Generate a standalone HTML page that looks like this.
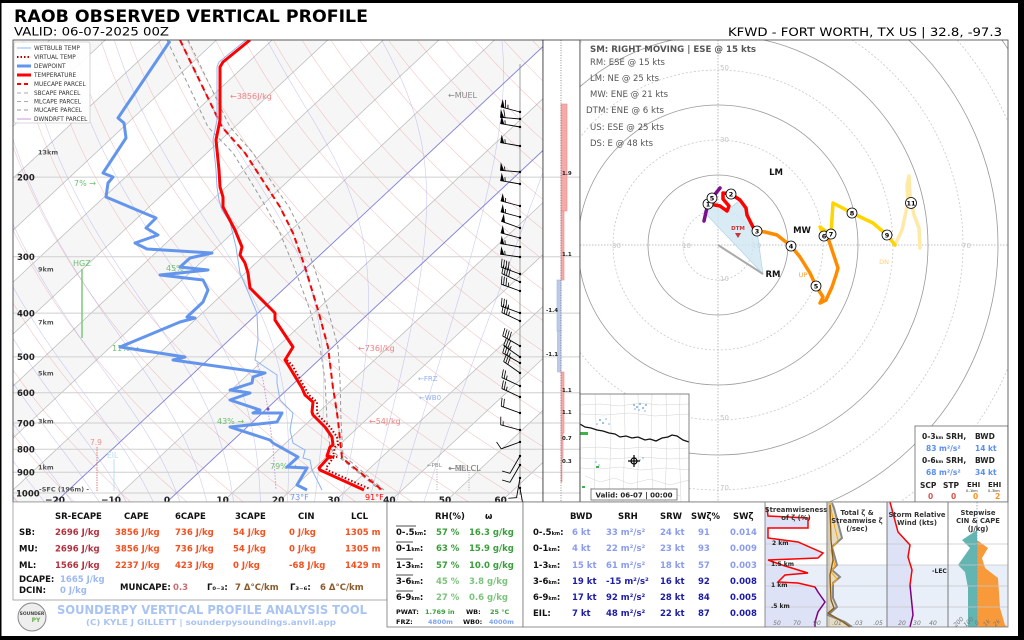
<!DOCTYPE html>
<html><head><meta charset="utf-8"><title>RAOB Observed Vertical Profile</title>
<style>
html,body{margin:0;padding:0;background:#000;}
svg{display:block;}
text{font-family:"DejaVu Sans","Liberation Sans",sans-serif;}
</style></head><body>
<svg id="s" width="1024" height="640" viewBox="0 0 1024 640" xmlns="http://www.w3.org/2000/svg">
<defs>
<clipPath id="cs"><rect x="13" y="40" width="530" height="462"/></clipPath>
<clipPath id="ch"><rect x="580" y="40" width="428" height="462"/></clipPath>
<clipPath id="cm"><rect x="580" y="394" width="109" height="108"/></clipPath>
<clipPath id="cb"><rect x="765" y="502" width="243" height="125"/></clipPath>
</defs>
<rect x="0" y="0" width="1024" height="640" fill="#000"/>
<rect x="1.5" y="3" width="1016.5" height="633" fill="#fff"/>

<!-- TITLES -->
<text x="14" y="22" font-size="17" font-weight="bold" textLength="354" lengthAdjust="spacingAndGlyphs" fill="#000">RAOB OBSERVED VERTICAL PROFILE</text>
<text x="14" y="35.5" font-size="11.5" textLength="155" lengthAdjust="spacingAndGlyphs" fill="#000">VALID: 06-07-2025 00Z</text>
<text x="728" y="36" font-size="11.5" textLength="274" lengthAdjust="spacingAndGlyphs" fill="#000">KFWD - FORT WORTH, TX US | 32.8, -97.3</text>

<!-- SKEW-T -->
<g clip-path="url(#cs)">
<rect x="13" y="40" width="530" height="462" fill="#fff"/>
<g id="bg"></g>
<g stroke="#cfcfcf" stroke-width="1">
<line x1="13" y1="493" x2="543" y2="493"/><line x1="13" y1="472.3" x2="543" y2="472.3"/>
<line x1="13" y1="449.2" x2="543" y2="449.2"/><line x1="13" y1="423" x2="543" y2="423"/>
<line x1="13" y1="392.7" x2="543" y2="392.7"/><line x1="13" y1="356.9" x2="543" y2="356.9"/>
<line x1="13" y1="313.1" x2="543" y2="313.1"/><line x1="13" y1="256.7" x2="543" y2="256.7"/>
<line x1="13" y1="177.1" x2="543" y2="177.1"/>
</g>
<g stroke="#7373e6" stroke-width="0.9" opacity="0.8">
<line x1="55.8" y1="502" x2="550" y2="40"/>
<line x1="167" y1="502" x2="661" y2="40"/>
</g>
<!-- annotations -->
<text x="38" y="154.5" font-size="6.5" font-weight="bold" fill="#555">13km</text>
<text x="38" y="271.5" font-size="6.5" font-weight="bold" fill="#555">9km</text>
<text x="38" y="324.5" font-size="6.5" font-weight="bold" fill="#555">7km</text>
<text x="38" y="375.5" font-size="6.5" font-weight="bold" fill="#555">5km</text>
<text x="38" y="423.5" font-size="6.5" font-weight="bold" fill="#555">3km</text>
<text x="38" y="469.5" font-size="6.5" font-weight="bold" fill="#555">1km</text>
<text x="39" y="491.5" font-size="6.5" font-weight="bold" fill="#555">-SFC (196m) -</text>

<text x="74" y="186" font-size="8" fill="#6cbf6c">7% →</text>
<text x="73" y="266" font-size="8" fill="#6cbf6c">HGZ</text>
<line x1="82" y1="269" x2="82" y2="338" stroke="#7cc87c" stroke-width="1.5"/>
<text x="166" y="271" font-size="8" fill="#6cbf6c">45% →</text>
<text x="112" y="351" font-size="8" fill="#6cbf6c">11% →</text>
<text x="217" y="424" font-size="8" fill="#6cbf6c">43% →</text>
<text x="270" y="469" font-size="8" fill="#6cbf6c">79% →</text>

<text x="230" y="99" font-size="8" fill="#f08080">←3856J/kg</text>
<text x="358" y="351" font-size="8" fill="#f08080">←736J/kg</text>
<text x="369" y="424" font-size="8" fill="#f08080">←54J/kg</text>
<text x="448" y="98" font-size="8" fill="#888">←MUEL</text>
<text x="418" y="381" font-size="7" fill="#8fb0f0">←FRZ</text>
<text x="419" y="400" font-size="7" fill="#8fb0f0">←WB0</text>
<text x="427" y="467" font-size="5.5" fill="#888">←PBL</text>
<line x1="437" y1="469" x2="437" y2="491" stroke="#999" stroke-width="0.8" stroke-dasharray="1,1.5"/>
<text x="448" y="471" font-size="8" fill="#777">←MLLCL</text>
<text x="449" y="471" font-size="8" fill="#888" opacity="0.7">←SBLCL</text>
<line x1="469" y1="472" x2="469" y2="491" stroke="#999" stroke-width="0.8" stroke-dasharray="1,1.5"/>
<text x="90" y="445" font-size="7.5" fill="#e89090">7.9</text>
<line x1="97" y1="447" x2="97" y2="491" stroke="#e07070" stroke-width="0.9" stroke-dasharray="1.5,1"/>
<text x="107" y="458" font-size="7.5" fill="#b8dcf0">EIL</text>
<line x1="114" y1="459" x2="114" y2="491" stroke="#b8dcf0" stroke-width="0.9"/>

<!-- parcels -->
<polyline fill="none" stroke="#999" stroke-width="1" stroke-dasharray="4,3" points="167,40 208,127 233,153 254,187 266,207 280,233 294,267 310,310 320,347 325,380 327,420 330,448 340,458 380,490"/>
<polyline fill="none" stroke="#999" stroke-width="1" stroke-dasharray="4,3" points="188,40 230,127 253,153 275,187 289,207 302,233 314,267 328,310 338,347 340,380 341,420 343,455 384,490"/>
<polyline fill="none" stroke="#aaa" stroke-width="1" stroke-dasharray="4,3" points="180,40 222,127 245,153 267,187 280,207 293,233 305,267 318,310 328,347 333,388 335,400 338,420 340,440 342,458 382,490"/>
<polyline fill="none" stroke="#f00" stroke-width="2" stroke-dasharray="6,4" points="180,40 222,127 245,153 267,187 280,207 293,233 305,267 318,310 328,347 333,388 335,400 338,420 340,440 342,458 382,490"/>
<!-- downdraft -->
<polyline fill="none" stroke="#c49ad8" stroke-width="1" stroke-dasharray="1.5,1.5" points="257,363 263,380 268,410 273,447 276,490"/>
<circle cx="268" cy="409" r="1.5" fill="#7a4bb0"/>
<!-- wetbulb -->
<polyline fill="none" stroke="#8cb4f5" stroke-width="1" points="246,40 219,62 217,67 217,120 213,140 216,170 217,187 219,200 222,210 230,222 236,247 240,273 257,313 258,340 255,360 262,365 277,375 277,383 280,400 287,407 293,413 290,430 293,443 305,450 303,458 310,460 312,470 322,490"/>
<!-- dewpoint -->
<polyline fill="none" stroke="#6495ed" stroke-width="3" stroke-linejoin="round" points="170,41 118,118 124,123 126,138 103,173 113,177 108,183 106,197 156,218 146,228 158,235 135,243 147,249 212,253 190,258 180,267 208,270 160,275 203,280 208,290 203,302 187,317 195,318 180,322 120,347 185,357 173,360 265,373 253,377 252,383 230,390 250,393 230,400 260,410 253,413 282,413 277,422 230,427 270,440 273,443 298,457 287,467 307,468 297,485 307,490"/>
<!-- virtual temp -->
<polyline fill="none" stroke="#b00000" stroke-width="2" stroke-dasharray="1.5,2" points="287,360 292,365 305,388 309,395 317,402 317,412 318,415 330,427 337,437 338,445 335,447 333,456 337,457 333,458 326,468 327,470 370,489"/>
<!-- temperature -->
<polyline fill="none" stroke="#f00" stroke-width="3" stroke-linejoin="round" points="250,40 223,62 220,67 220,120 216,140 219,170 220,187 223,197 223,207 235,230 242,247 240,255 245,263 248,273 250,288 275,313 275,320 293,347 285,360 287,363 302,388 305,395 313,402 312,412 313,415 325,427 332,437 333,445 330,447 327,456 332,457 328,458 319,468 320,470 364,490"/>
<text x="290" y="500" font-size="8" fill="#6495ed">73°F</text>
<text x="365" y="500" font-size="8" fill="#f00">91°F</text>

<!-- barbs -->
<line x1="520" y1="64" x2="520" y2="495" stroke="#888" stroke-width="0.8"/>
<g id="barbs"></g>

<!-- legend -->
<rect x="14" y="42" width="76" height="81" fill="#fff" fill-opacity="0.9" stroke="#ccc" stroke-width="0.8" rx="2"/>
<line x1="17" y1="48" x2="31" y2="48" stroke="#8cb4f5" stroke-width="1"/>
<line x1="17" y1="57" x2="31" y2="57" stroke="#b00000" stroke-width="2" stroke-dasharray="1.5,2"/>
<line x1="17" y1="66" x2="31" y2="66" stroke="#6495ed" stroke-width="3"/>
<line x1="17" y1="75" x2="31" y2="75" stroke="#f00" stroke-width="3"/>
<line x1="17" y1="84" x2="31" y2="84" stroke="#f00" stroke-width="2" stroke-dasharray="4,3"/>
<line x1="17" y1="93" x2="31" y2="93" stroke="#aaa" stroke-width="1" stroke-dasharray="4,3"/>
<line x1="17" y1="101.5" x2="31" y2="101.5" stroke="#aaa" stroke-width="1" stroke-dasharray="4,3"/>
<line x1="17" y1="110" x2="31" y2="110" stroke="#999" stroke-width="1" stroke-dasharray="4,3"/>
<line x1="17" y1="119" x2="31" y2="119" stroke="#c49ad8" stroke-width="1"/>
<g font-size="5.8" fill="#333">
<text x="34" y="50">WETBULB TEMP</text>
<text x="34" y="59">VIRTUAL TEMP</text>
<text x="34" y="68">DEWPOINT</text>
<text x="34" y="77">TEMPERATURE</text>
<text x="34" y="86">MUECAPE PARCEL</text>
<text x="34" y="95">SBCAPE PARCEL</text>
<text x="34" y="103.5">MLCAPE PARCEL</text>
<text x="34" y="112">MUCAPE PARCEL</text>
<text x="34" y="121">DWNDRFT PARCEL</text>
</g>
</g>
<!-- pressure labels -->
<g font-size="8.5" font-weight="bold" fill="#222">
<text x="16" y="496.3">1000</text>
<text x="17" y="475.6">900</text>
<text x="17" y="452.5">800</text>
<text x="17" y="426.3">700</text>
<text x="17" y="396">600</text>
<text x="17" y="360.2">500</text>
<text x="17" y="316.4">400</text>
<text x="17" y="260">300</text>
<text x="17" y="180.4">200</text>
</g>
<g font-size="9" font-weight="bold" fill="#222" text-anchor="middle">
<text x="55" y="503">−20</text>
<text x="111" y="503">−10</text>
<text x="167" y="503">0</text>
<text x="222.6" y="503">10</text>
<text x="278.2" y="503">20</text>
<text x="333.8" y="503">30</text>
<text x="389.4" y="503">40</text>
<text x="445" y="503">50</text>
<text x="500.6" y="503">60</text>
</g>
<rect x="13" y="40" width="530" height="462" fill="none" stroke="#333" stroke-width="0.8"/>

<!-- SIDE BAR PANEL -->
<rect x="543" y="40" width="37" height="462" fill="#fff"/>
<g stroke="#cfcfcf" stroke-width="1">
<line x1="543" y1="493" x2="580" y2="493"/><line x1="543" y1="472.3" x2="580" y2="472.3"/>
<line x1="543" y1="449.2" x2="580" y2="449.2"/><line x1="543" y1="423" x2="580" y2="423"/>
<line x1="543" y1="392.7" x2="580" y2="392.7"/><line x1="543" y1="356.9" x2="580" y2="356.9"/>
<line x1="543" y1="313.1" x2="580" y2="313.1"/><line x1="543" y1="256.7" x2="580" y2="256.7"/>
<line x1="543" y1="177.1" x2="580" y2="177.1"/>
</g>
<g stroke-width="0.6">
<rect x="561" y="104" width="6" height="107" fill="#f6a9a9" stroke="#f08a8a"/>
<rect x="561" y="211" width="3" height="69" fill="#f6a9a9" stroke="#f08a8a"/>
<rect x="557" y="280" width="4" height="51" fill="#bccbe8" stroke="#9fb3dc"/>
<rect x="557.5" y="331" width="3.5" height="41" fill="#bccbe8" stroke="#9fb3dc"/>
<rect x="561" y="372" width="3" height="61" fill="#f6a9a9" stroke="#f08a8a"/>
<rect x="561" y="433" width="2" height="25" fill="#f6a9a9" stroke="#f08a8a"/>
<rect x="561" y="458" width="1" height="24" fill="#f6a9a9" stroke="#f08a8a"/>
</g>
<line x1="561" y1="40" x2="561" y2="502" stroke="#666" stroke-width="0.7" stroke-dasharray="1,1.5"/>
<g font-size="5.5" font-weight="bold" fill="#222">
<text x="562" y="175">1.9</text>
<text x="562" y="256">1.1</text>
<text x="546" y="312">-1.4</text>
<text x="546" y="356">-1.1</text>
<text x="562" y="392">1.1</text>
<text x="562" y="414">1.1</text>
<text x="562" y="440">0.7</text>
<text x="562" y="463">0.3</text>
</g>
<rect x="543" y="40" width="37" height="462" fill="none" stroke="#333" stroke-width="0.8"/>

<!-- HODOGRAPH -->
<g clip-path="url(#ch)">
<rect x="580" y="40" width="428" height="462" fill="#fff"/>
<g fill="none" stroke-width="0.8">
<circle cx="718" cy="245" r="35" stroke="#c8c8c8" stroke-dasharray="2,2"/>
<circle cx="718" cy="245" r="70" stroke="#999"/>
<circle cx="718" cy="245" r="105" stroke="#c8c8c8" stroke-dasharray="2,2"/>
<circle cx="718" cy="245" r="140" stroke="#999"/>
<circle cx="718" cy="245" r="175" stroke="#c8c8c8" stroke-dasharray="2,2"/>
<circle cx="718" cy="245" r="210" stroke="#999"/>
<circle cx="718" cy="245" r="245" stroke="#c8c8c8" stroke-dasharray="2,2"/>
<circle cx="718" cy="245" r="280" stroke="#999"/>
<circle cx="718" cy="245" r="315" stroke="#c8c8c8" stroke-dasharray="2,2"/>
<circle cx="718" cy="245" r="350" stroke="#999"/>
<circle cx="718" cy="245" r="385" stroke="#c8c8c8" stroke-dasharray="2,2"/>
</g>
<line x1="718" y1="40" x2="718" y2="502" stroke="#aaa" stroke-width="0.8" stroke-dasharray="1.5,1.5"/>
<line x1="580" y1="245" x2="1008" y2="245" stroke="#aaa" stroke-width="0.8" stroke-dasharray="1.5,1.5"/>
<g font-size="7" fill="#c4c4c4">
<text x="682" y="248">10</text><text x="612" y="248">30</text>
<text x="752" y="248">10</text><text x="962" y="248">70</text>
<text x="720" y="70">50</text><text x="720" y="142">30</text>
<text x="720" y="281">10</text><text x="720" y="420">50</text><text x="720" y="490">70</text>
</g>
<!-- SRH fill -->
<polygon points="763,274 704,212 708,204 712,198 720,206 727,211 740,200 747,215 753,227 757,231" fill="#cfe6f3" fill-opacity="0.8" stroke="#a8cfe0" stroke-width="0.6"/>
<line x1="718" y1="245" x2="763" y2="274" stroke="#aaa" stroke-width="2"/>
<g fill="none" stroke-width="3.5" stroke-linejoin="round" stroke-linecap="round">
<polyline stroke="#ffe9a6" points="895,245 902,230 905,216 908,203 907,185 909,176 910,195 914,215 919,228 920,248"/>
<polyline stroke="#ffd500" points="824,236 820,227 827,232 831,234 833,203 852,213 873,223 887,235 895,245"/>
<polyline stroke="#ff8c00" points="757,231 765,232 777,235 791,246 800,257 810,273 816,286 823,297 820,303 826,300 832,287 836,275 838,268 833,253 828,238 824,236"/>
<polyline stroke="#f00" points="712,198 708,204 715,205 720,206 727,211 729,206 723,199 723,193 731,194 740,200 746,208 747,215 753,227 757,231"/>
<polyline stroke="#7a1090" points="704,221 706,212 708,204 712,198 716,193 720,188"/>
</g>
<g font-size="6.5" font-weight="bold" text-anchor="middle" fill="#000">
<circle cx="708" cy="204" r="5" fill="#fff" stroke="#000" stroke-width="0.8"/><text x="708" y="206.5">1</text>
<circle cx="712" cy="198" r="5" fill="#fff" stroke="#000" stroke-width="0.8"/><text x="712" y="200.5">5</text>
<circle cx="731" cy="194" r="5" fill="#fff" stroke="#000" stroke-width="0.8"/><text x="731" y="196.5">2</text>
<circle cx="757" cy="231" r="5" fill="#fff" stroke="#000" stroke-width="0.8"/><text x="757" y="233.5">3</text>
<circle cx="791" cy="246" r="5" fill="#fff" stroke="#000" stroke-width="0.8"/><text x="791" y="248.5">4</text>
<circle cx="816" cy="286" r="5" fill="#fff" stroke="#000" stroke-width="0.8"/><text x="816" y="288.5">5</text>
<circle cx="824" cy="236" r="5" fill="#fff" stroke="#000" stroke-width="0.8"/><text x="824" y="238.5">6</text>
<circle cx="831" cy="234" r="5" fill="#fff" stroke="#000" stroke-width="0.8"/><text x="831" y="236.5">7</text>
<circle cx="852" cy="213" r="5" fill="#fff" stroke="#000" stroke-width="0.8"/><text x="852" y="215.5">8</text>
<circle cx="887" cy="235" r="5" fill="#fff" stroke="#000" stroke-width="0.8"/><text x="887" y="237.5">9</text>
<circle cx="911" cy="203" r="5.5" fill="#fff" stroke="#000" stroke-width="0.8"/><text x="911" y="205.5">11</text>
</g>
<polygon points="735,233 741,233 738,238" fill="#c33"/>
<text x="738" y="230" font-size="5.5" font-weight="bold" fill="#c33" text-anchor="middle">DTM</text>
<text x="776" y="175" font-size="8.5" font-weight="bold" fill="#111" text-anchor="middle">LM</text>
<text x="802" y="233" font-size="8.5" font-weight="bold" fill="#111" text-anchor="middle">MW</text>
<text x="773" y="277" font-size="8.5" font-weight="bold" fill="#111" text-anchor="middle">RM</text>
<text x="803" y="277" font-size="6.5" fill="#ffa030" text-anchor="middle">UP</text>
<text x="884" y="264" font-size="6.5" fill="#ffd070" text-anchor="middle">DN</text>

<g fill="#555">
<text x="590" y="52" font-size="9" font-weight="bold" textLength="166" lengthAdjust="spacingAndGlyphs">SM: RIGHT MOVING | ESE @ 15 kts</text>
<text x="590" y="65" font-size="8.5" textLength="75" lengthAdjust="spacingAndGlyphs">RM: ESE @ 15 kts</text>
<text x="590" y="81" font-size="8.5" textLength="69" lengthAdjust="spacingAndGlyphs">LM: NE @ 25 kts</text>
<text x="590" y="97" font-size="8.5" textLength="78" lengthAdjust="spacingAndGlyphs">MW: ENE @ 21 kts</text>
<text x="586" y="113" font-size="8.5" textLength="78" lengthAdjust="spacingAndGlyphs">DTM: ENE @ 6 kts</text>
<text x="590" y="130" font-size="8.5" textLength="74" lengthAdjust="spacingAndGlyphs">US: ESE @ 25 kts</text>
<text x="590" y="146" font-size="8.5" textLength="63" lengthAdjust="spacingAndGlyphs">DS: E @ 48 kts</text>
</g>

<!-- map inset -->
<g clip-path="url(#cm)">
<rect x="580" y="394" width="109" height="108" fill="#fff"/>
<g fill="none" stroke="#d2d2d2" stroke-width="0.5">
<polyline points="580,405 600,404 620,406 640,403 660,405 689,404"/>
<polyline points="580,414 605,415 630,413 655,416 689,414"/>
<polyline points="580,448 600,447 620,449 645,447 670,449 689,448"/>
<polyline points="580,458 610,459 640,457 670,459 689,458"/>
<polyline points="580,468 600,469 620,467 640,470 665,468 689,470"/>
<polyline points="585,476 600,482 615,478 630,484 650,479 670,485 689,480"/>
<polyline points="590,488 605,493 622,489 640,495 660,490 680,496"/>
<polyline points="595,394 596,425 594,502"/><polyline points="610,394 611,430 609,502"/>
<polyline points="624,394 625,432 623,502"/><polyline points="638,394 639,437 637,502"/>
<polyline points="652,394 651,440 653,502"/><polyline points="666,394 667,438 665,502"/>
<polyline points="680,394 679,440 681,502"/>
</g>
<polyline fill="none" stroke="#111" stroke-width="1.3" points="580,424 585,427 591,428 597,430 603,431 609,433 615,434 620,437 626,436 632,438 638,437 645,440 650,439 656,441 662,438 668,437 672,435 677,436 683,440 689,442"/>
<g fill="#5a9ad0" opacity="0.8">
<circle cx="634" cy="405" r="1"/><circle cx="637" cy="407" r="1"/><circle cx="640" cy="404" r="1"/><circle cx="643" cy="408" r="1"/><circle cx="646" cy="405" r="1"/><circle cx="639" cy="410" r="0.8"/><circle cx="645" cy="411" r="0.8"/><circle cx="635" cy="409" r="0.8"/>
<circle cx="600" cy="420" r="1"/><circle cx="603" cy="423" r="1"/><circle cx="606" cy="419" r="0.8"/><circle cx="609" cy="424" r="0.8"/><circle cx="597" cy="424" r="0.8"/>
<circle cx="640" cy="460" r="0.8"/><circle cx="643" cy="458" r="0.8"/>
<circle cx="596" cy="462" r="0.8"/><circle cx="599" cy="465" r="0.8"/>
</g>
<g fill="#3cb44b">
<rect x="580" y="432" width="8" height="3"/><rect x="596" y="466" width="3" height="2"/><rect x="582" y="486" width="3" height="2"/>
</g>
<g stroke="#000" stroke-width="1.2" fill="none">
<circle cx="634" cy="461" r="3"/>
<line x1="628" y1="461" x2="640" y2="461"/><line x1="634" y1="455" x2="634" y2="467"/>
</g>
<rect x="591" y="489" width="86" height="11" fill="#fff" stroke="#666" stroke-width="0.8"/>
<text x="634" y="497.5" font-size="7" font-weight="bold" fill="#222" text-anchor="middle">Valid: 06-07 | 00:00</text>
</g>
<rect x="580" y="394" width="109" height="108" fill="none" stroke="#666" stroke-width="0.8"/>

<!-- SRH box -->
<rect x="915" y="426" width="93" height="76" fill="#fff" stroke="#666" stroke-width="0.8"/>
<g font-size="7.5" font-weight="bold">
<text x="922" y="439" fill="#222">0-3<tspan font-size="4.5">km</tspan> SRH,</text>
<text x="975" y="439" fill="#222">BWD</text>
<text x="926" y="451" fill="#5b8def">83 m²/s²</text>
<text x="975" y="451" fill="#5b8def">14 kt</text>
<text x="922" y="463" fill="#222">0-6<tspan font-size="4.5">km</tspan> SRH,</text>
<text x="975" y="463" fill="#222">BWD</text>
<text x="926" y="475" fill="#5b8def">68 m²/s²</text>
<text x="975" y="475" fill="#5b8def">34 kt</text>
<text x="920" y="488" fill="#222">SCP</text>
<text x="943" y="488" fill="#222">STP</text>
<text x="967" y="487" fill="#222" font-size="7">EHI</text>
<text x="988" y="487" fill="#222" font-size="7">EHI</text>
<text x="928" y="499" fill="#d9534f">0</text>
<text x="951" y="499" fill="#d9534f">0</text>
<text x="973" y="499" fill="#ff9020">0</text>
<text x="995" y="499" fill="#ff9020">2</text>
</g>
<text x="966" y="492" font-size="3.5" fill="#222">0–1km</text>
<text x="988" y="492" font-size="3.5" fill="#222">0–3km</text>
</g>
<rect x="580" y="40" width="428" height="462" fill="none" stroke="#444" stroke-width="0.8"/>

<!-- BOTTOM LEFT TABLE -->
<rect x="13" y="502" width="374" height="98" fill="#fff" stroke="#999" stroke-width="0.8"/>
<g font-size="8.5" font-weight="bold">
<g fill="#111">
<text x="55" y="519">SR-ECAPE</text><text x="124" y="519">CAPE</text><text x="175" y="519">6CAPE</text>
<text x="235" y="519">3CAPE</text><text x="298" y="519">CIN</text><text x="351" y="519">LCL</text>
<text x="19" y="535">SB:</text><text x="19" y="551.5">MU:</text><text x="19" y="568">ML:</text>
</g>
<g fill="#b3303e">
<text x="55" y="535">2696 J/kg</text><text x="55" y="551.5">2696 J/kg</text><text x="55" y="568">1566 J/kg</text>
</g>
<g fill="#f5501e">
<text x="115" y="535">3856 J/kg</text><text x="175" y="535">736 J/kg</text><text x="233" y="535">54 J/kg</text><text x="289" y="535">0 J/kg</text><text x="345" y="535">1305 m</text>
<text x="115" y="551.5">3856 J/kg</text><text x="175" y="551.5">736 J/kg</text><text x="233" y="551.5">54 J/kg</text><text x="289" y="551.5">0 J/kg</text><text x="345" y="551.5">1305 m</text>
<text x="115" y="568">2237 J/kg</text><text x="175" y="568">423 J/kg</text><text x="233" y="568">0 J/kg</text><text x="289" y="568">-68 J/kg</text><text x="345" y="568">1429 m</text>
</g>
<text x="19" y="582" fill="#111">DCAPE:</text>
<text x="60" y="582" fill="#9db8f2">1665 J/kg</text>
<text x="19" y="593" fill="#111">DCIN:</text>
<text x="60" y="593" fill="#9db8f2">0 J/kg</text>
<text x="120" y="590" fill="#111">MUNCAPE:</text>
<text x="173" y="590" fill="#c87070">0.3</text>
<text x="207" y="590" fill="#111">Γ₀₋₃:</text>
<text x="235" y="590" fill="#8b5a2b">7 Δ°C/km</text>
<text x="290" y="590" fill="#111">Γ₃₋₆:</text>
<text x="320" y="590" fill="#8b5a2b">6 Δ°C/km</text>
</g>
<circle cx="32" cy="617" r="14" fill="#eee" stroke="#888" stroke-width="1"/>
<text x="32" y="615" font-size="4.5" font-weight="bold" fill="#444" text-anchor="middle">SOUNDER</text>
<text x="36" y="622" font-size="6" font-weight="bold" fill="#6ab04c" text-anchor="middle">PY</text>
<text x="57" y="614" font-size="12" font-weight="bold" fill="#a9c4f2" textLength="310" lengthAdjust="spacingAndGlyphs">SOUNDERPY VERTICAL PROFILE ANALYSIS TOOL</text>
<text x="86" y="625" font-size="8" font-weight="bold" fill="#a9c4f2" textLength="250" lengthAdjust="spacingAndGlyphs">(C) KYLE J GILLETT | sounderpysoundings.anvil.app</text>

<!-- RH BOX -->
<rect x="387" y="502" width="136" height="125" fill="#fff" stroke="#777" stroke-width="0.8"/>
<g font-size="8.5" font-weight="bold">
<text x="435" y="519" fill="#111">RH(%)</text>
<text x="485" y="519" fill="#111">ω</text>
<g fill="#111">
<text x="396" y="535">0-.5<tspan font-size="5">km</tspan>:</text>
<text x="396" y="551">0-1<tspan font-size="5">km</tspan>:</text>
<text x="396" y="568">1-3<tspan font-size="5">km</tspan>:</text>
<text x="396" y="584">3-6<tspan font-size="5">km</tspan>:</text>
<text x="396" y="600">6-9<tspan font-size="5">km</tspan>:</text>
</g>
<g fill="#3a9e3a">
<text x="436" y="535">57 %</text><text x="469" y="535">16.3 g/kg</text>
<text x="436" y="551">63 %</text><text x="469" y="551">15.9 g/kg</text>
<text x="436" y="568">57 %</text><text x="469" y="568">10.0 g/kg</text>
</g>
<g fill="#7cc47c">
<text x="436" y="584">45 %</text><text x="469" y="584">3.8 g/kg</text>
<text x="436" y="600">27 %</text><text x="469" y="600">0.6 g/kg</text>
</g>
</g>
<g stroke="#111" stroke-width="0.7">
<line x1="396" y1="526" x2="416" y2="526"/><line x1="396" y1="542" x2="413" y2="542"/>
<line x1="396" y1="559" x2="413" y2="559"/><line x1="396" y1="575" x2="413" y2="575"/>
<line x1="396" y1="591" x2="413" y2="591"/>
</g>
<g font-size="6.5" font-weight="bold">
<text x="396" y="614" fill="#111">PWAT:</text><text x="425" y="614" fill="#3a9e3a">1.769 in</text>
<text x="466" y="614" fill="#111">WB:</text><text x="490" y="614" fill="#3a9e3a">25 °C</text>
<text x="396" y="624" fill="#111">FRZ:</text><text x="428" y="624" fill="#7ea4f0">4800m</text>
<text x="463" y="624" fill="#111">WB0:</text><text x="489" y="624" fill="#7ea4f0">4000m</text>
</g>

<!-- BWD BOX -->
<rect x="523" y="502" width="243" height="125" fill="#fff" stroke="#777" stroke-width="0.8"/>
<g font-size="8.5" font-weight="bold">
<g fill="#111">
<text x="570" y="519">BWD</text><text x="618" y="519">SRH</text><text x="660" y="519">SRW</text>
<text x="691" y="519">SWζ%</text><text x="733" y="519">SWζ</text>
<text x="533" y="535">0-.5<tspan font-size="5">km</tspan>:</text>
<text x="533" y="551">0-1<tspan font-size="5">km</tspan>:</text>
<text x="533" y="568">1-3<tspan font-size="5">km</tspan>:</text>
<text x="533" y="584">3-6<tspan font-size="5">km</tspan>:</text>
<text x="533" y="600">6-9<tspan font-size="5">km</tspan>:</text>
<text x="533" y="616">EIL:</text>
</g>
<g fill="#8a9cf0">
<text x="572" y="535">6 kt</text><text x="606" y="535">33 m²/s²</text><text x="660" y="535">24 kt</text><text x="698" y="535">91</text><text x="730" y="535">0.014</text>
<text x="572" y="551">4 kt</text><text x="606" y="551">22 m²/s²</text><text x="660" y="551">23 kt</text><text x="698" y="551">93</text><text x="730" y="551">0.009</text>
<text x="572" y="568">15 kt</text><text x="606" y="568">61 m²/s²</text><text x="660" y="568">18 kt</text><text x="698" y="568">57</text><text x="730" y="568">0.003</text>
</g>
<g fill="#1c1ca8">
<text x="572" y="584">19 kt</text><text x="606" y="584">-15 m²/s²</text><text x="660" y="584">16 kt</text><text x="698" y="584">92</text><text x="730" y="584">0.008</text>
<text x="572" y="600">17 kt</text><text x="606" y="600">92 m²/s²</text><text x="660" y="600">28 kt</text><text x="698" y="600">84</text><text x="730" y="600">0.005</text>
<text x="572" y="616">7 kt</text><text x="606" y="616">48 m²/s²</text><text x="660" y="616">22 kt</text><text x="698" y="616">87</text><text x="730" y="616">0.008</text>
</g>
</g>

<!-- BOTTOM RIGHT PANELS -->
<g clip-path="url(#cb)">
<rect x="765" y="502" width="243" height="125" fill="#fff"/>
<rect x="765" y="565" width="243" height="62" fill="#e8eff8"/>
<polygon fill="#dde2f6" points="765,502 767,508 768,516 808,518 808,528 768,528 768,538 798,542 823,553 818,558 768,560 782,565 808,573 785,575 778,582 798,583 815,587 818,592 825,602 818,612 815,622 815,627 765,627"/>
<polygon fill="#dde2f6" points="887,502 890,502 898,532 910,545 908,557 912,570 910,585 913,615 910,627 887,627"/>
<polygon fill="#e6dcc4" points="827,502 832,503 834,508 842,538 832,547 837,565 832,570 840,577 833,583 833,598 837,607 828,615 845,622 852,627 827,627"/>
<polygon fill="#62b5b1" points="977,530 962,540 970,548 958,565 965,572 968,588 968,627 977,627"/>
<polygon fill="#f89a3a" points="977,540 988,548 982,558 985,568 998,578 1000,608 1005,625 1008,627 977,627"/>
<g stroke="#c8c8c8" stroke-width="0.8">
<line x1="765" y1="544" x2="1008" y2="544"/><line x1="765" y1="565" x2="1008" y2="565"/>
<line x1="765" y1="586" x2="1008" y2="586"/><line x1="765" y1="607" x2="1008" y2="607"/>
</g>
<line x1="977" y1="502" x2="977" y2="627" stroke="#6aa0d8" stroke-width="0.8" stroke-dasharray="1.5,1.5"/>
<line x1="829" y1="502" x2="829" y2="627" stroke="#aaa" stroke-width="0.6"/>
<g fill="none" stroke-width="1.5">
<polyline stroke="#f00" points="767,508 768,516 808,518 808,528 768,528 768,538 798,542 823,553 818,558 768,560 782,565 808,573 785,575 778,582 798,583 815,587"/>
<polyline stroke="#800080" points="815,587 818,592 825,602 818,612 815,622 815,627"/>
<polyline stroke="#888" stroke-width="2" points="832,503 834,508 842,538 832,547 837,565 832,570 840,577 833,583 833,598 837,607 828,615 845,622 852,627"/>
<polyline stroke="#ffa500" stroke-width="1" points="830,503 833,520 838,540 831,550 835,566 831,572 837,579 832,585"/>
<polyline stroke="#8b5a10" stroke-width="1.3" points="830,505 831,540 833,560 830,575 831,600 834,608 828,613 840,620 850,627"/>
<polyline stroke="#f00" points="890,502 898,532 910,545 908,557 912,570 910,585"/>
<polyline stroke="#800080" points="910,585 913,615 910,627"/>
</g>
<g font-size="6" font-weight="bold" fill="#222">
<text x="772" y="545">2 km</text><text x="771" y="566">1.5 km</text>
<text x="771" y="587">1 km</text><text x="771" y="608">.5 km</text>
<text x="932" y="573">-LEC</text>
</g>
<g font-size="6.8" font-weight="bold" fill="#333" text-anchor="middle">
<text x="796" y="512">Streamwiseness</text><text x="796" y="520">of ζ (%)</text>
<text x="857" y="515">Total ζ &amp;</text><text x="857" y="523">Streamwise ζ</text><text x="857" y="531">(/sec)</text>
<text x="917" y="517">Storm Relative</text><text x="917" y="525">Wind (kts)</text>
<text x="978" y="515">Stepwise</text><text x="978" y="523">CIN &amp; CAPE</text><text x="978" y="531">(J/kg)</text>
</g>
<g font-size="6" font-style="italic" fill="#777" text-anchor="middle">
<text x="777" y="625">50</text><text x="797" y="625">70</text><text x="817" y="625">90</text>
<text x="837" y="625">.01</text><text x="858" y="625">.03</text><text x="878" y="625">.05</text>
<text x="902" y="625">20</text><text x="917" y="625">30</text><text x="933" y="625">40</text>
<text x="957" y="625" transform="rotate(-45 957 622)">-200</text>
<text x="967" y="625" transform="rotate(-45 967 622)">-100</text>
<text x="976" y="625" transform="rotate(-45 976 622)">0</text>
<text x="986" y="625" transform="rotate(-45 986 622)">1k</text>
<text x="996" y="625" transform="rotate(-45 996 622)">2k</text>
</g>
</g>
<g fill="none" stroke="#777" stroke-width="0.8">
<rect x="765" y="502" width="62" height="125"/>
<rect x="827" y="502" width="60" height="125"/>
<rect x="887" y="502" width="61" height="125"/>
<rect x="948" y="502" width="60" height="125"/>
</g>
</svg>
<script>
(function(){
var NS='http://www.w3.org/2000/svg';
function Y(p){return 493-196.3*Math.log(1000/p);}
function X(T,y){return 167+5.56*T+1.07*(502-y);}
function mk(tag,a,par){var e=document.createElementNS(NS,tag);for(var k in a)e.setAttribute(k,a[k]);par.appendChild(e);return e;}
function pts(a){return a.map(function(q){return q[0].toFixed(1)+','+q[1].toFixed(1);}).join(' ');}
var bg=document.getElementById('bg');
var T,p,y;
for(T=-130;T<=70;T+=20){
  mk('polygon',{points:pts([[X(T,502),502],[X(T+10,502),502],[X(T+10,40),40],[X(T,40),40]]),fill:'#f6f6f6'},bg);
}
for(T=-130;T<=80;T+=10){
  mk('line',{x1:X(T,502),y1:502,x2:X(T,40),y2:40,stroke:'#b8b8b8','stroke-width':0.7},bg);
}
for(var th=-40;th<=260;th+=10){
  var a=[];
  for(p=1050;p>=100;p-=10){y=Y(p);var t=(th+273.15)*Math.pow(p/1000,0.2857)-273.15;a.push([X(t,y),y]);}
  mk('polyline',{points:pts(a),fill:'none',stroke:'#e89a9a','stroke-width':0.6,'stroke-opacity':0.55},bg);
}
function es(t){return 6.112*Math.exp(17.67*t/(t+243.5));}
function lapse(t,p){var Rd=287.04,Cp=1005.7,Lv=2.501e6,eps=0.622,Tk=t+273.15;var e=es(t);var rs=eps*e/(p-e);return ((Rd*Tk+Lv*rs)/p)/(Cp+Lv*Lv*rs*eps/(Rd*Tk*Tk));}
for(var T0=-30;T0<=45;T0+=5){
  var up=[],dn=[],t1=T0,t2=T0;
  for(p=1000;p<=1050;p+=5){y=Y(p);dn.push([X(t2,y),y]);t2+=lapse(t2,p)*5;}
  for(p=1000;p>=100;p-=5){y=Y(p);up.push([X(t1,y),y]);t1-=lapse(t1,p)*5;if(t1<-120)break;}
  var all=dn.reverse().concat(up);
  mk('polyline',{points:pts(all),fill:'none',stroke:'#8f8fe0','stroke-width':0.6,'stroke-opacity':0.45},bg);
}
var bb=document.getElementById('barbs');
var B=[[112,195,65],[119,185,60],[127,190,55],[146,190,55],[172,185,55],[184,190,55],[206,195,55],[217,195,55],[228,200,50],[238,195,50],[247,190,55],[257,188,55],[274,200,40],[282,205,40],[291,200,35],[313,200,35],[321,205,35],[346,210,40],[357,215,35],[363,210,35],[373,215,30],[386,205,25],[397,205,25],[413,200,20],[430,195,15],[442,160,10],[456,120,10],[465,120,10],[478,100,10],[488,80,5]];
B.forEach(function(b){
  var y0=b[0],r=b[1]*Math.PI/180,dx=Math.cos(r),dy=Math.sin(r),x0=520,L=20;
  var tx=x0+dx*L,ty=y0+dy*L,fx=-dy,fy=dx;
  mk('line',{x1:x0,y1:y0,x2:tx,y2:ty,stroke:'#000','stroke-width':0.9},bb);
  mk('circle',{cx:x0,cy:y0,r:1.2,fill:'#000'},bb);
  var s=Math.round(b[2]/5)*5,pos=0;
  while(s>=50){
    var ax=tx-dx*pos,ay=ty-dy*pos,bx=tx-dx*(pos+4),by=ty-dy*(pos+4);
    mk('polygon',{points:pts([[ax,ay],[bx,by],[ax+fx*8,ay+fy*8]]),fill:'#000'},bb);
    pos+=5;s-=50;
  }
  while(s>=10){
    var sx=tx-dx*pos,sy=ty-dy*pos;
    mk('line',{x1:sx,y1:sy,x2:sx+fx*8+dx*2,y2:sy+fy*8+dy*2,stroke:'#000','stroke-width':0.8},bb);
    pos+=2.5;s-=10;
  }
  if(s>=5){
    if(pos===0)pos=2.5;
    var hx=tx-dx*pos,hy=ty-dy*pos;
    mk('line',{x1:hx,y1:hy,x2:hx+fx*4+dx*1,y2:hy+fy*4+dy*1,stroke:'#000','stroke-width':0.8},bb);
  }
});
})();
</script>
</body></html>
